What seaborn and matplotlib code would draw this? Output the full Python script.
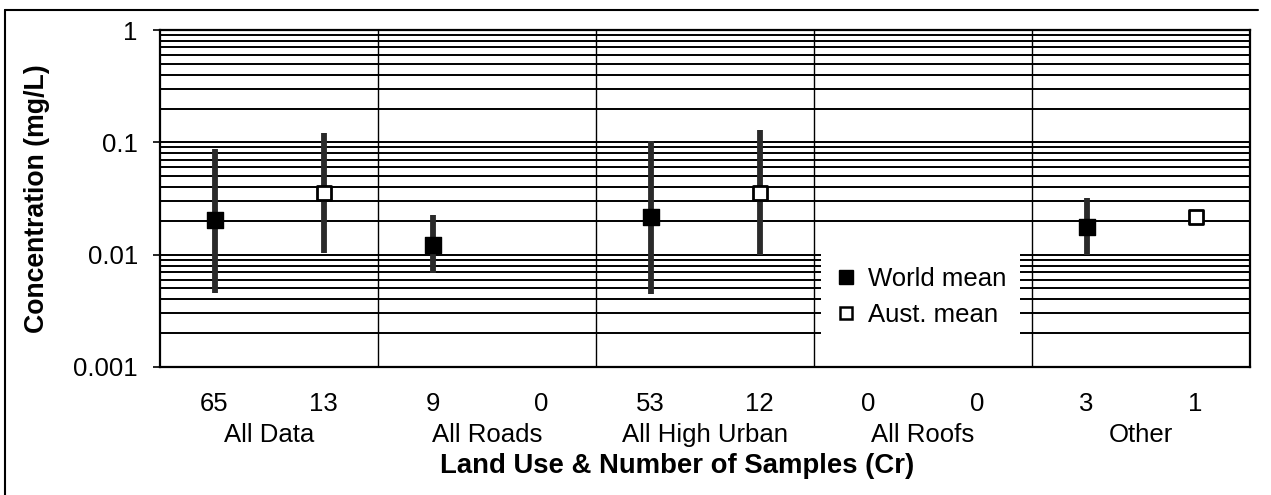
import numpy as np
import pandas as pd
import matplotlib
matplotlib.use("Agg")
import matplotlib.pyplot as plt
from matplotlib.lines import Line2D
from matplotlib.patches import Rectangle
import seaborn as sns

# ---- data ----
groups = ["All Data", "All Roads", "All High Urban", "All Roofs", "Other"]
counts = ["65", "13", "9", "0", "53", "12", "0", "0", "3", "1"]
series = ["World", "Aust.", "World", "Aust.", "World", "Aust.", "World", "Aust.", "World", "Aust."]
means = [0.0205, 0.0355, 0.0122, np.nan, 0.0215, 0.0355, np.nan, np.nan, 0.0176, 0.0216]
lows = [0.0046, 0.0103, 0.0068, np.nan, 0.0045, 0.0100, np.nan, np.nan, 0.0100, np.nan]
highs = [0.088, 0.122, 0.0225, np.nan, 0.102, 0.130, np.nan, np.nan, 0.032, np.nan]

df = pd.DataFrame({"pos": np.arange(len(counts)), "series": series,
                   "mean": means, "low": lows, "high": highs})

sns.set_style("white")
plt.rcParams["font.family"] = ["Liberation Sans", "DejaVu Sans"]
plt.rcParams.update({"text.color": "black", "axes.labelcolor": "black",
                     "xtick.color": "black", "ytick.color": "black"})
FS = 18.5

fig = plt.figure(figsize=(12.71, 4.95), dpi=100)
ax = fig.add_axes([160 / 1271, 1 - 367 / 495, 1090 / 1271, 337 / 495])

ax.set_yscale("log")
ax.set_ylim(0.001, 1)
ax.set_xlim(-0.5, len(counts) - 0.5)

# gridlines at every minor/major decade step
ax.yaxis.set_major_locator(matplotlib.ticker.LogLocator(base=10, numticks=10))
ax.yaxis.set_minor_locator(matplotlib.ticker.LogLocator(base=10, subs=np.arange(2, 10), numticks=10))
ax.grid(True, which="both", axis="y", color="black", linewidth=1.4)
ax.grid(False, axis="x")
ax.set_axisbelow(True)

# group separators
for b in np.arange(1.5, len(counts) - 1, 2):
    ax.axvline(b, color="black", linewidth=1.0, zorder=1.6)

# white legend background region (covers gridlines in All Roofs column)
ax.add_patch(Rectangle((5.56, 0.001), 7.39 - 5.56, 0.0106 - 0.001, facecolor="white",
                       edgecolor="none", zorder=1.5))

# range bars
rng = df.dropna(subset=["low"])
ax.vlines(rng["pos"], rng["low"], rng["high"], color="#2a2a2a", linewidth=4.2, zorder=2)

# means
world = df[df["series"] == "World"].dropna(subset=["mean"])
aust = df[df["series"] == "Aust."].dropna(subset=["mean"])
sns.scatterplot(data=world, x="pos", y="mean", marker="s", s=140, color="black",
                edgecolor="black", linewidth=1, ax=ax, zorder=3, legend=False)
sns.scatterplot(data=aust, x="pos", y="mean", marker="s", s=100, color="white",
                edgecolor="black", linewidth=2, ax=ax, zorder=3, legend=False)

# axes styling
for s in ax.spines.values():
    s.set_color("black")
    s.set_linewidth(1.6)
ax.set_xticks(np.arange(len(counts)))
ax.set_xticklabels(counts, fontsize=FS)
ax.tick_params(axis="x", length=0, pad=18)
ax.set_yticks([0.001, 0.01, 0.1, 1])
ax.set_yticklabels(["0.001", "0.01", "0.1", "1"], fontsize=FS)
ax.tick_params(axis="y", which="major", direction="out", length=5, width=1.2, left=True, pad=11)
ax.tick_params(axis="y", which="minor", length=0)

trans = matplotlib.transforms.blended_transform_factory(ax.transData, ax.transAxes)
for i, g in enumerate(groups):
    ax.text(2 * i + 0.5, -(442 - 367) / 337, g, transform=trans, ha="center",
            va="baseline", fontsize=FS, color="black")

ax.set_xlabel("Land Use & Number of Samples (Cr)", fontsize=19.8, fontweight="bold", va="baseline")
ax.xaxis.set_label_coords((677 - 160) / 1090, -(473 - 367) / 337)
ax.set_ylabel("Concentration (mg/L)", fontsize=19.2, fontweight="bold", va="center")
ax.yaxis.set_label_coords((37 - 160) / 1090, 0.5)

handles = [Line2D([], [], marker="s", linestyle="none", markersize=9.5, markerfacecolor="black",
                  markeredgecolor="black"),
           Line2D([], [], marker="s", linestyle="none", markersize=8.5, markerfacecolor="white",
                  markeredgecolor="black", markeredgewidth=1.8)]
leg = ax.legend(handles, ["World mean", "Aust. mean"], loc="center left",
                bbox_to_anchor=((838 - 160) / 1090, (367 - 297) / 337), frameon=False,
                fontsize=FS, handletextpad=0.55, labelspacing=0.45, borderaxespad=0,
                borderpad=0, handlelength=0.6, labelcolor="black")
leg.set_zorder(5)

# figure border (top and left only)
fig.add_artist(Line2D([5 / 1271, 1258 / 1271], [1 - 10 / 495, 1 - 10 / 495],
                      transform=fig.transFigure, color="black", linewidth=1.5))
fig.add_artist(Line2D([5 / 1271, 5 / 1271], [1 - 10 / 495, 0],
                      transform=fig.transFigure, color="black", linewidth=1.5))

fig.savefig("out.png", dpi=100, facecolor="white")
